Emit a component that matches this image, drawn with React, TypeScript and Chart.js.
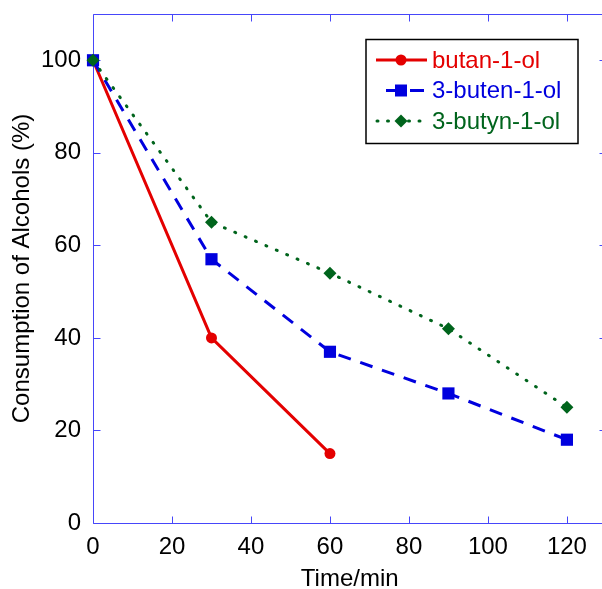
import React, { useEffect, useRef } from "react";
import { Chart, registerables } from "chart.js";

Chart.register(...registerables);

const seriesNames = ["butan-1-ol", "3-buten-1-ol", "3-butyn-1-ol"];
const butanolTime = [0, 30, 60];
const butanolValues = [100, 40, 15];
const butenolTime = [0, 30, 60, 90, 120];
const butenolValues = [100, 57, 37, 28, 18];
const butynolTime = [0, 30, 60, 90, 120];
const butynolValues = [100, 65, 54, 42, 25];
const xTicks = [0, 20, 40, 60, 80, 100, 120];
const yTicks = [0, 20, 40, 60, 80, 100];
const xTitle = "Time/min";
const yTitle = "Consumption of Alcohols (%)";

const RED = "rgb(228,0,0)";
const BLUE = "rgb(0,0,222)";
const GREEN = "rgb(0,100,28)";
const AXIS = "rgb(70,70,250)";
const FONT = "'Liberation Sans', Arial, sans-serif";
const FS = 24;

const framePlugin = {
  id: "frame",
  beforeDatasetsDraw(chart: any) {
    const { ctx, chartArea } = chart;
    const { left, right, top, bottom } = chartArea;
    const xs = chart.scales.x;
    const ys = chart.scales.y;
    ctx.save();
    ctx.strokeStyle = AXIS;
    ctx.lineWidth = 1;
    const L = Math.round(left) + 0.5;
    const R = Math.round(right) + 0.5;
    const T = Math.round(top) + 0.5;
    const B = Math.round(bottom) + 0.5;
    ctx.beginPath();
    ctx.rect(L, T, R - L, B - T);
    const tl = 7;
    xTicks.forEach((v) => {
      const x = Math.round(xs.getPixelForValue(v)) + 0.5;
      ctx.moveTo(x, B);
      ctx.lineTo(x, B - tl);
      ctx.moveTo(x, T);
      ctx.lineTo(x, T + tl);
    });
    yTicks.forEach((v) => {
      const y = Math.round(ys.getPixelForValue(v)) + 0.5;
      ctx.moveTo(L, y);
      ctx.lineTo(L + tl, y);
      ctx.moveTo(R, y);
      ctx.lineTo(R - tl, y);
    });
    ctx.stroke();
    ctx.restore();
  },
};

function drawMarker(ctx: any, style: string, x: number, y: number, color: string) {
  ctx.save();
  ctx.fillStyle = color;
  ctx.setLineDash([]);
  ctx.beginPath();
  if (style === "circle") {
    ctx.arc(x, y, 5.5, 0, Math.PI * 2);
  } else if (style === "rect") {
    ctx.rect(x - 6, y - 6, 12, 12);
  } else {
    ctx.moveTo(x - 6.5, y);
    ctx.lineTo(x, y - 6.5);
    ctx.lineTo(x + 6.5, y);
    ctx.lineTo(x, y + 6.5);
    ctx.closePath();
  }
  ctx.fill();
  ctx.restore();
}

const legendPlugin = {
  id: "customLegend",
  afterDraw(chart: any) {
    const { ctx } = chart;
    ctx.save();
    ctx.fillStyle = "#fff";
    ctx.fillRect(366, 39.5, 212, 104);
    ctx.strokeStyle = "#000";
    ctx.lineWidth = 1.5;
    ctx.strokeRect(366, 39.5, 212, 104);
    const rows = [
      { y: 60, color: RED, dash: [], cap: "butt", x0: 376, x1: 427, marker: "circle" },
      { y: 90.5, color: BLUE, dash: [14, 10], cap: "butt", x0: 386, x1: 424, marker: "rect" },
      { y: 121, color: GREEN, dash: [1, 9.5], cap: "round", x0: 377, x1: 426, marker: "diamond" },
    ];
    rows.forEach((r, i) => {
      ctx.save();
      ctx.strokeStyle = r.color;
      ctx.lineWidth = 3;
      ctx.lineCap = r.cap;
      ctx.setLineDash(r.dash);
      ctx.beginPath();
      ctx.moveTo(r.x0, r.y);
      ctx.lineTo(r.x1, r.y);
      ctx.stroke();
      ctx.restore();
      drawMarker(ctx, r.marker, 401, r.y, r.color);
      ctx.fillStyle = r.color;
      ctx.font = `${FS}px ${FONT}`;
      ctx.textBaseline = "middle";
      ctx.textAlign = "left";
      ctx.fillText(seriesNames[i], 432, r.y + 1);
    });
    ctx.restore();
  },
};

export default function App() {
  const ref = useRef<HTMLCanvasElement | null>(null);

  useEffect(() => {
    document.body.style.margin = "0";
    document.body.style.overflow = "hidden";
    const canvas = ref.current;
    if (!canvas) return;
    const toXY = (xs: number[], ys: number[]) => xs.map((x, i) => ({ x, y: ys[i] }));
    const chart = new Chart(canvas, {
      type: "line",
      data: {
        datasets: [
          {
            label: seriesNames[0],
            data: toXY(butanolTime, butanolValues),
            borderColor: RED,
            backgroundColor: RED,
            borderWidth: 3,
            pointStyle: "circle",
            pointRadius: 5.5,
            pointBorderWidth: 0,
            pointBackgroundColor: RED,
            clip: false,
            order: 2,
          },
          {
            label: seriesNames[1],
            data: toXY(butenolTime, butenolValues),
            borderColor: BLUE,
            backgroundColor: BLUE,
            borderWidth: 3,
            borderDash: [13, 10],
            pointStyle: "rect",
            pointRadius: 8.6,
            pointBorderWidth: 0,
            pointBackgroundColor: BLUE,
            clip: false,
            order: 1,
          },
          {
            label: seriesNames[2],
            data: toXY(butynolTime, butynolValues),
            borderColor: GREEN,
            backgroundColor: GREEN,
            borderWidth: 3,
            borderDash: [1, 10.3],
            borderCapStyle: "round",
            pointStyle: "rectRot",
            pointRadius: 6.5,
            pointBorderWidth: 0,
            pointBackgroundColor: GREEN,
            clip: false,
            order: 0,
          },
        ] as any,
      },
      plugins: [framePlugin, legendPlugin],
      options: {
        animation: false,
        responsive: false,
        maintainAspectRatio: false,
        layout: { padding: { top: 14, right: 4, left: 0, bottom: 0 } },
        plugins: { legend: { display: false }, tooltip: { enabled: false } },
        scales: {
          x: {
            type: "linear",
            min: 0,
            max: 130,
            grid: { display: false, drawTicks: false },
            border: { display: false },
            afterBuildTicks: (s: any) => {
              s.ticks = xTicks.map((v) => ({ value: v }));
            },
            afterFit: (s: any) => {
              s.height = 66;
              s.paddingLeft = 0;
              s.paddingRight = 0;
              s.paddingTop = 0;
              s.paddingBottom = 0;
            },
            ticks: {
              padding: 10,
              color: "#000",
              maxRotation: 0,
              autoSkip: false,
              font: { family: FONT, size: FS },
            },
            title: {
              display: true,
              text: xTitle,
              color: "#000",
              font: { family: FONT, size: FS, lineHeight: 1 },
              padding: { top: 0, bottom: -2 },
            },
          },
          y: {
            type: "linear",
            min: 0,
            max: 110,
            grid: { display: false, drawTicks: false },
            border: { display: false },
            afterBuildTicks: (s: any) => {
              s.ticks = yTicks.map((v) => ({ value: v }));
            },
            afterFit: (s: any) => {
              s.width = 93;
              s.paddingLeft = 0;
              s.paddingRight = 0;
              s.paddingTop = 0;
              s.paddingBottom = 0;
            },
            ticks: {
              padding: 12,
              color: "#000",
              autoSkip: false,
              font: { family: FONT, size: FS },
            },
            title: {
              display: true,
              text: yTitle,
              color: "#000",
              font: { family: FONT, size: FS, lineHeight: 1 },
              padding: { top: 10, bottom: 0 },
            },
          },
        },
      } as any,
    });
    return () => chart.destroy();
  }, []);

  return (
    <div style={{ width: 602, height: 589, overflow: "hidden", background: "#fff" }}>
      <canvas ref={ref} width={615} height={589} style={{ display: "block", width: 615, height: 589 }} />
    </div>
  );
}
